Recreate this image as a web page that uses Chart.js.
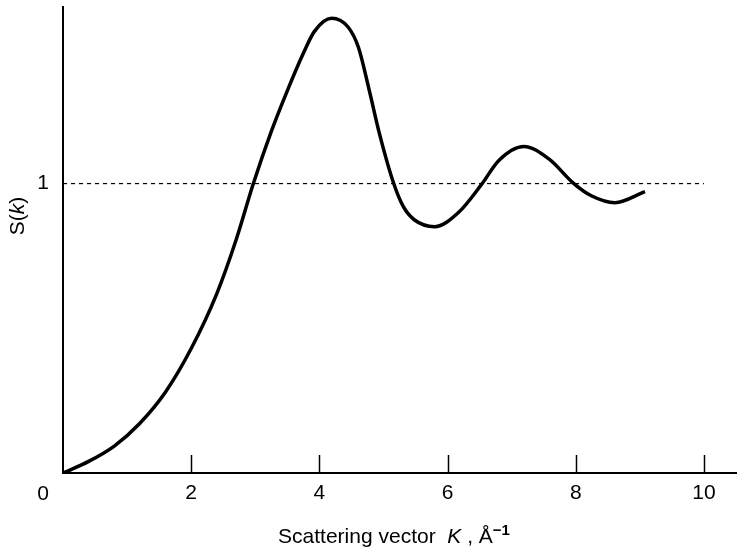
<!DOCTYPE html>
<html>
<head>
<meta charset="utf-8">
<script src="https://cdn.jsdelivr.net/npm/chart.js@4"></script>
<style>
    html, body { margin: 0; padding: 0; background: #ffffff; }
    #wrap { width: 738px; height: 550px; }
</style>
</head>
<body>
<div id="wrap"><canvas id="chart" width="738" height="550"></canvas></div>
<script>
// Structure factor S(k)
const kValues = [0, 0.4, 0.8, 1.2, 1.6, 2.0, 2.4, 2.7, 2.97, 3.25, 3.48, 3.75, 3.92,
    4.19, 4.45, 4.61, 4.77, 4.94, 5.16, 5.31, 5.48, 5.8, 6.17, 6.53, 6.8, 7.19, 7.58, 7.97, 8.25, 8.61, 9.08];
const sValues = [0, 0.04, 0.093, 0.172, 0.28, 0.43, 0.62, 0.805, 1.0, 1.18, 1.31, 1.45, 1.525,
    1.571, 1.54, 1.47, 1.33, 1.17, 1.0, 0.92, 0.875, 0.851, 0.9, 0.997, 1.08, 1.128, 1.085, 1.0, 0.957, 0.934, 0.972];

// Reference level S = 1
const refK = [0, 10];
const refS = [1, 1];

const xTicks = [0, 2, 4, 6, 8, 10];
const yTicks = [1];

const FONT = "'Liberation Sans', Arial, sans-serif";
const FSIZE = 21;

function toPoints(xs, ys) {
    return xs.map((x, i) => ({ x: x, y: ys[i] }));
}

// Draws pieces of text with their own font, one after another
function drawParts(ctx, parts, x, y) {
    let total = 0;
    parts.forEach(p => {
        ctx.font = p.font;
        total += ctx.measureText(p.text).width;
    });
    let cx = x - total / 2;
    parts.forEach(p => {
        ctx.font = p.font;
        ctx.fillText(p.text, cx, y + (p.dy || 0));
        cx += ctx.measureText(p.text).width;
    });
}

const extras = {
    id: 'extras',
    afterDraw(chart) {
        const ctx = chart.ctx;
        const xs = chart.scales.x;
        const area = chart.chartArea;
        ctx.save();
        ctx.strokeStyle = '#000';
        ctx.lineWidth = 1.5;
        // inner tick marks on the k axis
        xTicks.filter(v => v > 0).forEach(v => {
            const px = Math.round(xs.getPixelForValue(v)) + 0.5;
            ctx.beginPath();
            ctx.moveTo(px, area.bottom);
            ctx.lineTo(px, area.bottom - 18);
            ctx.stroke();
        });
        ctx.fillStyle = '#000';
        ctx.textBaseline = 'middle';
        ctx.textAlign = 'center';
        ctx.font = FSIZE + 'px ' + FONT;
        // the "0" sits left of the origin
        ctx.fillText('0', xs.getPixelForValue(0) - 20, area.bottom + 21);

        ctx.textAlign = 'left';
        ctx.textBaseline = 'alphabetic';
        drawParts(ctx, [
            { text: 'Scattering vector  ', font: FSIZE + 'px ' + FONT },
            { text: 'K', font: 'italic ' + FSIZE + 'px ' + FONT },
            { text: ' , Å', font: FSIZE + 'px ' + FONT },
            { text: '−1', font: 'bold 15px ' + FONT, dy: -8 }
        ], 394, 543);

        ctx.translate(24, 216);
        ctx.rotate(-Math.PI / 2);
        drawParts(ctx, [
            { text: 'S(', font: FSIZE + 'px ' + FONT },
            { text: 'k', font: 'italic ' + FSIZE + 'px ' + FONT },
            { text: ')', font: FSIZE + 'px ' + FONT }
        ], 0, 0);
        ctx.restore();
    }
};

new Chart(document.getElementById('chart'), {
    type: 'line',
    data: {
        datasets: [
            {
                data: toPoints(kValues, sValues),
                borderColor: '#000',
                borderWidth: 3.5,
                pointRadius: 0,
                cubicInterpolationMode: 'monotone',
                fill: false
            },
            {
                data: toPoints(refK, refS),
                borderColor: '#000',
                borderWidth: 1.2,
                borderDash: [4, 4],
                pointRadius: 0,
                fill: false
            }
        ]
    },
    options: {
        responsive: false,
        animation: false,
        layout: { padding: { top: 7, right: 2, left: 0, bottom: 0 } },
        plugins: {
            legend: { display: false },
            tooltip: { enabled: false }
        },
        scales: {
            x: {
                type: 'linear',
                min: 0,
                max: 10.5,
                afterBuildTicks: scale => { scale.ticks = xTicks.map(v => ({ value: v })); },
                afterFit: scale => {
                    scale.height = 77;
                    scale.paddingLeft = 0;
                    scale.paddingRight = 0;
                },
                grid: { display: true, drawOnChartArea: false, drawTicks: false },
                border: { display: true, color: '#000', width: 2 },
                ticks: {
                    padding: 8,
                    color: '#000',
                    font: { family: FONT, size: FSIZE },
                    callback: v => (v === 0 ? '' : String(v))
                }
            },
            y: {
                min: 0,
                max: 1.61,
                afterBuildTicks: scale => { scale.ticks = yTicks.map(v => ({ value: v })); },
                afterFit: scale => {
                    scale.width = 63;
                    scale.paddingTop = 0;
                    scale.paddingBottom = 0;
                },
                grid: { display: true, drawOnChartArea: false, drawTicks: false },
                border: { display: true, color: '#000', width: 2 },
                ticks: {
                    padding: 14,
                    color: '#000',
                    font: { family: FONT, size: FSIZE }
                }
            }
        }
    },
    plugins: [extras]
});
</script>
</body>
</html>
